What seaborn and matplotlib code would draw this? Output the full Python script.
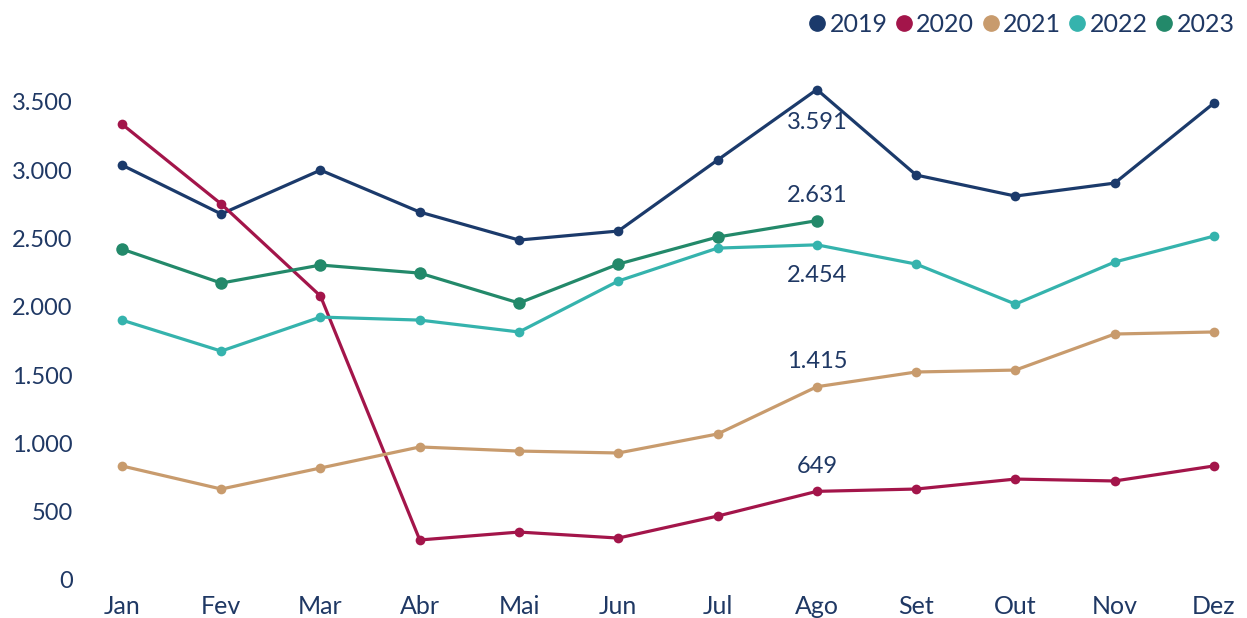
import matplotlib
matplotlib.use("Agg")
import matplotlib.pyplot as plt
from matplotlib.lines import Line2D
import seaborn as sns
import pandas as pd
import numpy as np

months = ["Jan", "Fev", "Mar", "Abr", "Mai", "Jun", "Jul", "Ago", "Set", "Out", "Nov", "Dez"]
v2019 = [3038, 2680, 3001, 2694, 2489, 2555, 3075, 3591, 2965, 2811, 2906, 3492]
v2020 = [3338, 2753, 2079, 293, 351, 307, 468, 649, 666, 739, 725, 835]
v2021 = [835, 666, 820, 974, 944, 930, 1069, 1415, 1523, 1537, 1801, 1816]
v2022 = [1903, 1676, 1925, 1903, 1816, 2189, 2430, 2454, 2313, 2020, 2328, 2518]
v2023 = [2423, 2174, 2306, 2247, 2028, 2313, 2511, 2631]
years = ["2019", "2020", "2021", "2022", "2023"]
colors = ["#1b3a6b", "#a3154a", "#c89b6d", "#35b3ad", "#23896a"]
text_color = "#1f3864"

# value labels shown at Ago: (series, offset in points)
labels = [("2019", -24), ("2023", 18), ("2022", -22), ("2021", 18), ("2020", 18)]

rows = []
for yr, vals in zip(years, [v2019, v2020, v2021, v2022, v2023]):
    for i, v in enumerate(vals):
        rows.append({"mes": i, "ano": yr, "valor": v})
df = pd.DataFrame(rows)

sns.set_style("white")
plt.rcParams["font.family"] = ["Lato", "DejaVu Sans"]

fig = plt.figure(figsize=(12.47, 6.18), dpi=100)
ax = fig.add_axes([0.0739, 0.0615, 0.9235, 0.8177])

palette = dict(zip(years, colors))
sns.lineplot(data=df, x="mes", y="valor", hue="ano", palette=palette, marker="o",
             markersize=7, markeredgewidth=0, linewidth=2.3, ax=ax, legend=False)
# 2023 markers slightly larger
ax.lines[-1].set_markersize(9)

fmt = lambda v: f"{v:,}".replace(",", ".")
for yr, dy in labels:
    v = df[(df["ano"] == yr) & (df["mes"] == 7)]["valor"].iloc[0]
    ax.annotate(fmt(v), (7, v), xytext=(0, dy), textcoords="offset points",
                ha="center", va="center", fontsize=17, color=text_color)

ax.set_xlim(-0.3, 11.3)
ax.set_ylim(0, 3700)
ax.set_xticks(range(12))
ax.set_xticklabels(months)
ax.set_yticks(np.arange(0, 3501, 500))
ax.set_yticklabels([fmt(int(t)) for t in np.arange(0, 3501, 500)])
ax.tick_params(axis="y", length=0, pad=14, labelsize=17, labelcolor=text_color)
ax.tick_params(axis="x", length=0, pad=11, labelsize=18, labelcolor=text_color)
ax.set_xlabel("")
ax.set_ylabel("")
sns.despine(ax=ax, left=True, bottom=True)

handles = [Line2D([], [], marker="o", color=c, linestyle="", markersize=11) for c in colors]
fig.legend(handles, years, loc="upper right", bbox_to_anchor=(1.0, 1.0), ncol=5, frameon=False,
           fontsize=18, handlelength=0.7, handletextpad=0.15, columnspacing=0.3,
           borderaxespad=0.3, borderpad=0.2, labelcolor=text_color)

fig.savefig("out.png", dpi=100)
